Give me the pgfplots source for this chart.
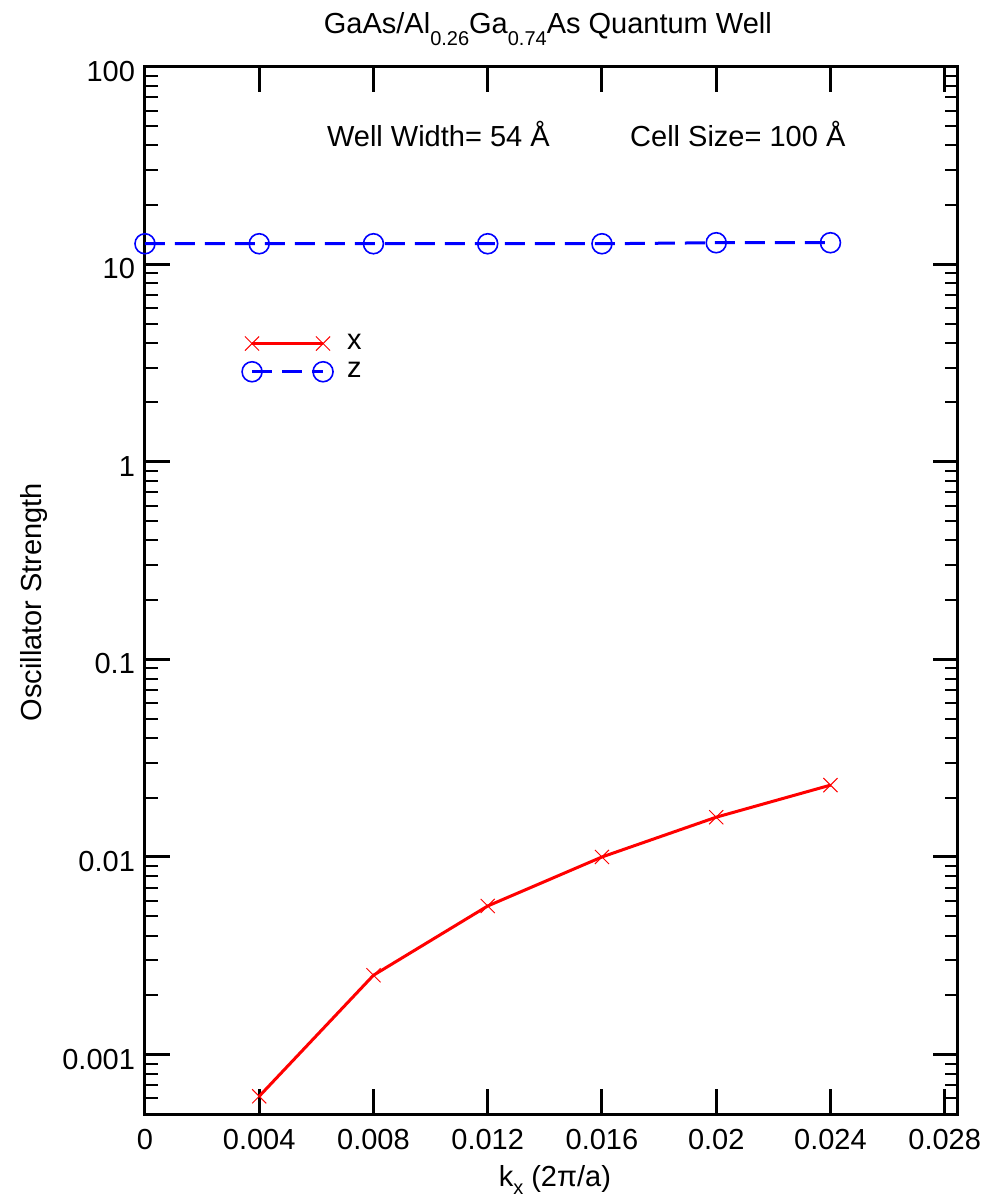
\documentclass[border=0pt]{standalone}
\usepackage{pgfplots}
\pgfplotsset{compat=1.18}
\usepackage{fontspec}
\setmainfont{Liberation Sans}
\newcommand\sub[1]{\raisebox{-6pt}{\fontsize{10}{12}\selectfont #1}}
\newcommand\subk[1]{\raisebox{-4.3pt}{\fontsize{10}{12}\selectfont #1}}
\begin{document}
\fontsize{14.5}{17}\selectfont
\begin{tikzpicture}
\path[use as bounding box] (-72.5pt,-42pt) rectangle (422.5pt,557.15pt);
\begin{axis}[
  scale only axis,
  width=406.4pt, height=523.8pt,
  xmin=0, xmax=0.02845,
  ymode=log, ymin=0.0005, ymax=100,
  xtick={0,0.004,0.008,0.012,0.016,0.02,0.024,0.028},
  xticklabels={0,0.004,0.008,0.012,0.016,0.02,0.024,0.028},
  ytick={0.001,0.01,0.1,1,10,100},
  yticklabels={0.001,0.01,0.1,1,10,100},
  minor ytick={0.0006,0.0007,0.0008,0.0009,
    0.002,0.003,0.004,0.005,0.006,0.007,0.008,0.009,
    0.02,0.03,0.04,0.05,0.06,0.07,0.08,0.09,
    0.2,0.3,0.4,0.5,0.6,0.7,0.8,0.9,
    2,3,4,5,6,7,8,9,
    20,30,40,50,60,70,80,90},
  scaled x ticks=false,
  tick align=inside,
  major tick length=12.5pt,
  minor tick length=6.5pt,
  axis line style={line width=1.5pt},
  major tick style={black, line width=1.5pt},
  minor tick style={black, line width=1pt},
  every tick label/.append style={font=\fontsize{14.5}{17}\selectfont},
  xticklabel style={yshift=-2.7pt},
  yticklabel style={yshift=-2.3pt},
  legend image code/.code={\draw[#1] plot coordinates {(0pt,0pt) (35.5pt,0pt)};},
  legend cell align=left,
  legend style={at={(axis description cs:0.119,0.7221)}, anchor=west,
    draw=none, fill=none, inner sep=0pt, row sep=4.2pt, column sep=7pt,
    nodes={inner sep=0pt}, font=\fontsize{14.5}{17}\selectfont},
]
\addplot[red, line width=1.5pt, mark=x, mark size=5pt, mark options={line width=0.5pt}]
  coordinates {(0.004,0.000615) (0.008,0.00252) (0.012,0.00565) (0.016,0.0100) (0.02,0.0159) (0.024,0.0231)};
\addlegendentry{x}
\addplot[blue, line width=1.5pt, dash pattern=on 10pt off 5pt, mark=o, mark size=5pt, mark options={solid, line width=0.8pt}]
  coordinates {(0,12.7) (0.004,12.7) (0.008,12.7) (0.012,12.7) (0.016,12.7) (0.02,12.85) (0.024,12.85)};
\addlegendentry{z}
\end{axis}
\node[anchor=base] at (201.5pt,540.5pt) {GaAs/Al\sub{0.26}Ga\sub{0.74}As Quantum Well};
\node[anchor=base] at (146.75pt,484pt) {Well Width= 54 Å};
\node[anchor=base] at (296.5pt,484pt) {Cell Size= 100 Å};
\node[anchor=base] at (205pt,-36pt) {k\subk{x} (2π/a)};
\node[anchor=base, rotate=90] at (-51.5pt,256pt) {Oscillator Strength};
\end{tikzpicture}
\end{document}
